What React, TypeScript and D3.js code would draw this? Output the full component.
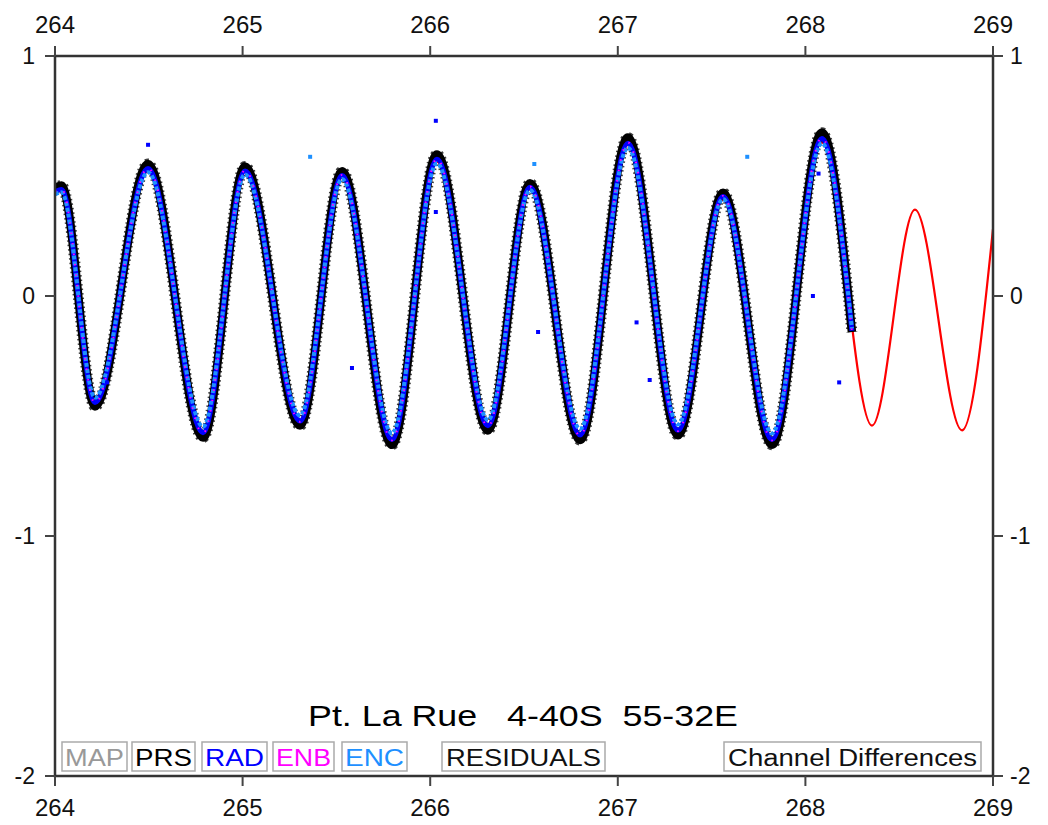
import React from "react";
import * as d3 from "d3";

// ---- Data ----
// Predicted tide (red): turning points, day of year
const predTimes = [264.0, 264.035, 264.213, 264.496, 264.789, 265.013, 265.306, 265.53, 265.796, 266.036, 266.308, 266.532, 266.799, 267.054, 267.321, 267.561, 267.822, 268.088, 268.355, 268.584, 268.835, 269.0];
const predValues = [0.44, 0.45, -0.44, 0.53, -0.57, 0.52, -0.52, 0.5, -0.6, 0.56, -0.54, 0.45, -0.58, 0.63, -0.56, 0.4, -0.6, 0.64, -0.54, 0.36, -0.56, 0.28];
// Observed (PRS/RAD/ENB/ENC) turning points
const obsTimes = [264.0, 264.035, 264.213, 264.496, 264.789, 265.013, 265.306, 265.53, 265.796, 266.036, 266.308, 266.532, 266.799, 267.054, 267.321, 267.561, 267.822, 268.088, 268.248];
const obsValues = [0.45, 0.46, -0.46, 0.55, -0.59, 0.54, -0.54, 0.52, -0.62, 0.59, -0.56, 0.47, -0.6, 0.66, -0.58, 0.43, -0.62, 0.68, -0.15];
// Outlier samples
const outTimes = [264.277, 264.496, 265.36, 265.583, 266.03, 266.03, 266.575, 266.555, 267.1, 267.17, 267.69, 268.04, 268.18, 268.07];
const outValues = [-0.36, 0.63, 0.58, -0.30, 0.73, 0.35, -0.15, 0.55, -0.11, -0.35, 0.58, 0.0, -0.36, 0.51];
const outSeries = ["RAD", "RAD", "ENC", "RAD", "RAD", "RAD", "RAD", "ENC", "RAD", "RAD", "ENC", "RAD", "RAD", "RAD"];

const xTicks = [264, 265, 266, 267, 268, 269];
const yTicks = [1, 0, -1, -2];

const legendItems = ["MAP", "PRS", "RAD", "ENB", "ENC"];
const legendColors = ["#999999", "#000000", "#0000ff", "#ff00ff", "#1e90ff"];

const title = "Pt. La Rue   4-40S  55-32E";

const FONT = "'Liberation Sans', Arial, Helvetica, sans-serif";

export default function App() {
  const W = 1048, H = 825;
  const left = 55, right = 993, top = 56, bottom = 776;
  const x = d3.scaleLinear().domain([264, 269]).range([left, right]);
  const y = d3.scaleLinear().domain([-2, 1]).range([bottom, top]);

  const pred = predTimes.map((t, i) => [t, predValues[i]] as [number, number]);
  const obs = obsTimes.map((t, i) => [t, obsValues[i]] as [number, number]);
  const gen = d3
    .line<[number, number]>()
    .x((d) => x(d[0]))
    .y((d) => y(d[1]))
    .curve(d3.curveMonotoneX);

  const y0 = y(0);
  const shrink = (k: number, dy = 0) =>
    `translate(0,${y0 + dy}) scale(1,${k}) translate(0,${-y0})`;

  const colorFor: Record<string, string> = { RAD: "#0000ff", ENC: "#1e90ff", ENB: "#ff00ff" };

  const legendX = [62, 132, 202, 273, 342];
  const legendW = [65, 63, 65, 61, 65];

  const obsPath = gen(obs) || "";

  return (
    <svg width={W} height={H} style={{ position: "absolute", left: 0, top: 0 }} fontFamily={FONT}>
      <rect width={W} height={H} fill="#fff" />
      <defs>
        <clipPath id="plot">
          <rect x={left} y={top} width={right - left} height={bottom - top} />
        </clipPath>
      </defs>
      <g clipPath="url(#plot)">
        {/* predicted (red) */}
        <path d={gen(pred) || ""} fill="none" stroke="#ff0000" strokeWidth={2.2} />
        {/* PRS black band */}
        <path d={obsPath} fill="none" stroke="#000" strokeWidth={8.5} strokeLinejoin="round" />
        <path d={obsPath} fill="none" stroke="#000" strokeWidth={11} strokeDasharray="1.5,3" opacity={0.75} />
        {/* RAD blue */}
        <path d={obsPath} fill="none" stroke="#0000ff" strokeWidth={5} transform={shrink(0.965, 0)} vectorEffect="non-scaling-stroke" />
        {/* ENC light blue */}
        <path d={obsPath} fill="none" stroke="#1e90ff" strokeWidth={4} transform={shrink(0.93, -1)} vectorEffect="non-scaling-stroke" strokeDasharray="4,2" />
        {/* ENB magenta */}
        <path d={obsPath} fill="none" stroke="#ff00ff" strokeWidth={2} transform={shrink(0.97, 0)} vectorEffect="non-scaling-stroke" strokeDasharray="1.5,9" />
        {/* outliers */}
        {outTimes.map((t, i) => (
          <rect key={i} x={x(t) - 2} y={y(outValues[i]) - 2} width={4} height={4} fill={colorFor[outSeries[i]]} />
        ))}
      </g>

      {/* frame */}
      <rect x={left} y={top} width={right - left} height={bottom - top} fill="none" stroke="#333" strokeWidth={2.5} />

      {/* y ticks */}
      {yTicks.map((v) => (
        <g key={"y" + v}>
          <line x1={left - 10} x2={left} y1={y(v)} y2={y(v)} stroke="#444" strokeWidth={2} />
          <line x1={right} x2={right + 10} y1={y(v)} y2={y(v)} stroke="#444" strokeWidth={2} />
          <text x={left - 20} y={y(v)} dy="0.36em" textAnchor="end" fontSize={23} fill="#111">{v}</text>
          <text x={right + 17} y={y(v)} dy="0.36em" textAnchor="start" fontSize={23} fill="#111">{v}</text>
        </g>
      ))}
      {/* x ticks */}
      {xTicks.map((v) => (
        <g key={"x" + v}>
          <line x1={x(v)} x2={x(v)} y1={top - 10} y2={top} stroke="#444" strokeWidth={2} />
          <line x1={x(v)} x2={x(v)} y1={bottom} y2={bottom + 10} stroke="#444" strokeWidth={2} />
          <text x={x(v)} y={33} textAnchor="middle" fontSize={24} fill="#111">{v}</text>
          <text x={x(v)} y={816} textAnchor="middle" fontSize={24} fill="#111">{v}</text>
        </g>
      ))}

      {/* title */}
      <text x={523} y={726} textAnchor="middle" fontSize={30} fill="#000" textLength={430} lengthAdjust="spacingAndGlyphs" style={{ whiteSpace: "pre" }}>{title}</text>

      {/* legend boxes */}
      {legendItems.map((s, i) => (
        <g key={s}>
          <rect x={legendX[i]} y={742} width={legendW[i]} height={29} fill="#fff" stroke="#aaa" strokeWidth={1.5} />
          <text x={legendX[i] + legendW[i] / 2} y={766} textAnchor="middle" fontSize={23} fill={legendColors[i]} textLength={legendW[i] - 6} lengthAdjust="spacingAndGlyphs">{s}</text>
        </g>
      ))}
      <rect x={442} y={742} width={163} height={29} fill="#fff" stroke="#aaa" strokeWidth={1.5} />
      <text x={523.5} y={766} textAnchor="middle" fontSize={23} fill="#111" textLength={155} lengthAdjust="spacingAndGlyphs">RESIDUALS</text>
      <rect x={724} y={742} width={257} height={29} fill="#fff" stroke="#aaa" strokeWidth={1.5} />
      <text x={852.5} y={766} textAnchor="middle" fontSize={23} fill="#111" textLength={249} lengthAdjust="spacingAndGlyphs">Channel Differences</text>
    </svg>
  );
}
